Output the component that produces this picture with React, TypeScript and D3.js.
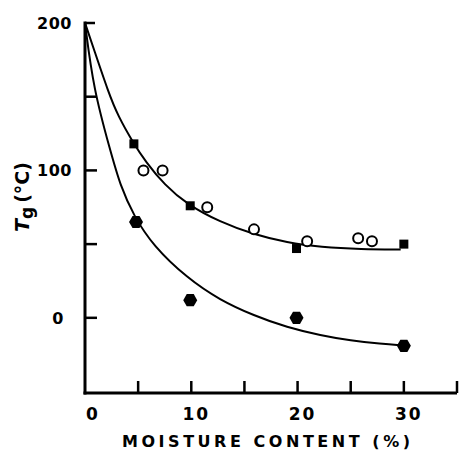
import React from "react";
import * as d3 from "d3";

// Data
const squareX = [4.6, 9.9, 19.9, 30];
const squareY = [118, 76, 47, 50];
const circleX = [5.5, 7.3, 11.5, 15.9, 20.9, 25.7, 27.0];
const circleY = [100, 100, 75, 60, 52, 54, 52];
const hexX = [4.8, 9.9, 19.9, 30];
const hexY = [65, 12, 0, -19];

const upperCurveX = [0, 0.8, 2.2, 3.1, 4.6, 5.7, 7.5, 9.6, 12.7, 15.9, 19.0, 22.2, 26, 29.7];
const upperCurveY = [200, 183, 153, 137, 118, 106, 90, 77, 65, 56.5, 51, 48, 46.5, 46.3];
const lowerCurveX = [0, 0.8, 2.4, 3.3, 4.6, 6.4, 9.6, 12.7, 15.9, 19.0, 22.2, 25, 27.8, 30.0];
const lowerCurveY = [200, 155, 113, 90, 69, 49, 27, 12, 1.5, -6.5, -12, -15.5, -17.6, -18.8];

const xTicks = [5, 10, 15, 20, 25, 30, 35];
const xLabels = [0, 10, 20, 30];
const yTicks = [0, 50, 100, 150, 200];
const yLabels = [0, 100, 200];

const W = 459;
const H = 450;

export default function App() {
  const x = d3.scaleLinear().domain([0, 35]).range([85, 457]);
  const y = d3.scaleLinear().domain([-51, 200]).range([393, 23]);
  const line = d3
    .line<[number, number]>()
    .x((d) => x(d[0]))
    .y((d) => y(d[1]))
    .curve(d3.curveBasis);
  const upper = upperCurveX.map((v, i) => [v, upperCurveY[i]] as [number, number]);
  const lower = lowerCurveX.map((v, i) => [v, lowerCurveY[i]] as [number, number]);
  const font = "'DejaVu Sans', 'Liberation Sans', sans-serif";
  const hexPts = (cx: number, cy: number, r: number) =>
    d3.range(6)
      .map((k) => {
        const a = (Math.PI / 3) * k;
        return `${cx + r * Math.cos(a)},${cy + r * Math.sin(a)}`;
      })
      .join(" ");

  return (
    <svg
      width={W}
      height={H}
      style={{ position: "absolute", left: 0, top: 0, background: "#fff" }}
    >
      <rect x={0} y={0} width={W} height={H} fill="#fff" />
      {/* curves */}
      <path d={line(upper) || ""} fill="none" stroke="#000" strokeWidth={2} />
      <path d={line(lower) || ""} fill="none" stroke="#000" strokeWidth={2} />
      {/* axes */}
      <line x1={x(0)} x2={x(0)} y1={y(200) - 1.5} y2={y(-51) + 1.5} stroke="#000" strokeWidth={3} />
      <line x1={x(0) - 1.5} x2={x(35)} y1={y(-51)} y2={y(-51)} stroke="#000" strokeWidth={3} />
      {xTicks.map((t) => (
        <line key={"xt" + t} x1={x(t)} x2={x(t)} y1={y(-51)} y2={y(-51) - 12} stroke="#000" strokeWidth={2.5} />
      ))}
      {yTicks.map((t) => (
        <line key={"yt" + t} x1={x(0)} x2={x(0) + (t === 200 ? 10 : 12)} y1={y(t)} y2={y(t)} stroke="#000" strokeWidth={2.5} />
      ))}
      {xLabels.map((t) => (
        <text
          key={"xl" + t}
          x={x(t) + (t === 0 ? 8 : 5)}
          y={420}
          textAnchor="middle"
          fontFamily={font}
          fontWeight="bold"
          fontSize={17}
          letterSpacing={2}
        >
          {t}
        </text>
      ))}
      {yLabels.map((t) => (
        <text
          key={"yl" + t}
          x={t === 0 ? 64 : 72}
          y={y(t) + 6}
          textAnchor="end"
          fontFamily={font}
          fontWeight="bold"
          fontSize={16}
          letterSpacing={0.5}
        >
          {t}
        </text>
      ))}
      <text
        x={266}
        y={447}
        textAnchor="middle"
        fontFamily={font}
        fontWeight="bold"
        fontSize={16}
        textLength={288}
        lengthAdjust="spacing"
      >
        MOISTURE CONTENT (%)
      </text>
      <text
        transform="translate(29,197) rotate(-90)"
        textAnchor="middle"
        fontFamily={font}
        fontWeight="bold"
        fontSize={19}
      >
        <tspan fontStyle="italic">T</tspan>
        <tspan fontSize={17} dy={4}>g</tspan>
        <tspan dy={-4} dx={4}>(°C)</tspan>
      </text>
      {/* markers */}
      {squareX.map((v, i) => (
        <rect key={"s" + i} x={x(v) - 4.5} y={y(squareY[i]) - 4.5} width={9} height={9} fill="#000" />
      ))}
      {circleX.map((v, i) => (
        <circle key={"c" + i} cx={x(v)} cy={y(circleY[i])} r={5} fill="#fff" stroke="#000" strokeWidth={2} />
      ))}
      {hexX.map((v, i) => (
        <polygon key={"h" + i} points={hexPts(x(v), y(hexY[i]), 7)} fill="#000" />
      ))}
    </svg>
  );
}
